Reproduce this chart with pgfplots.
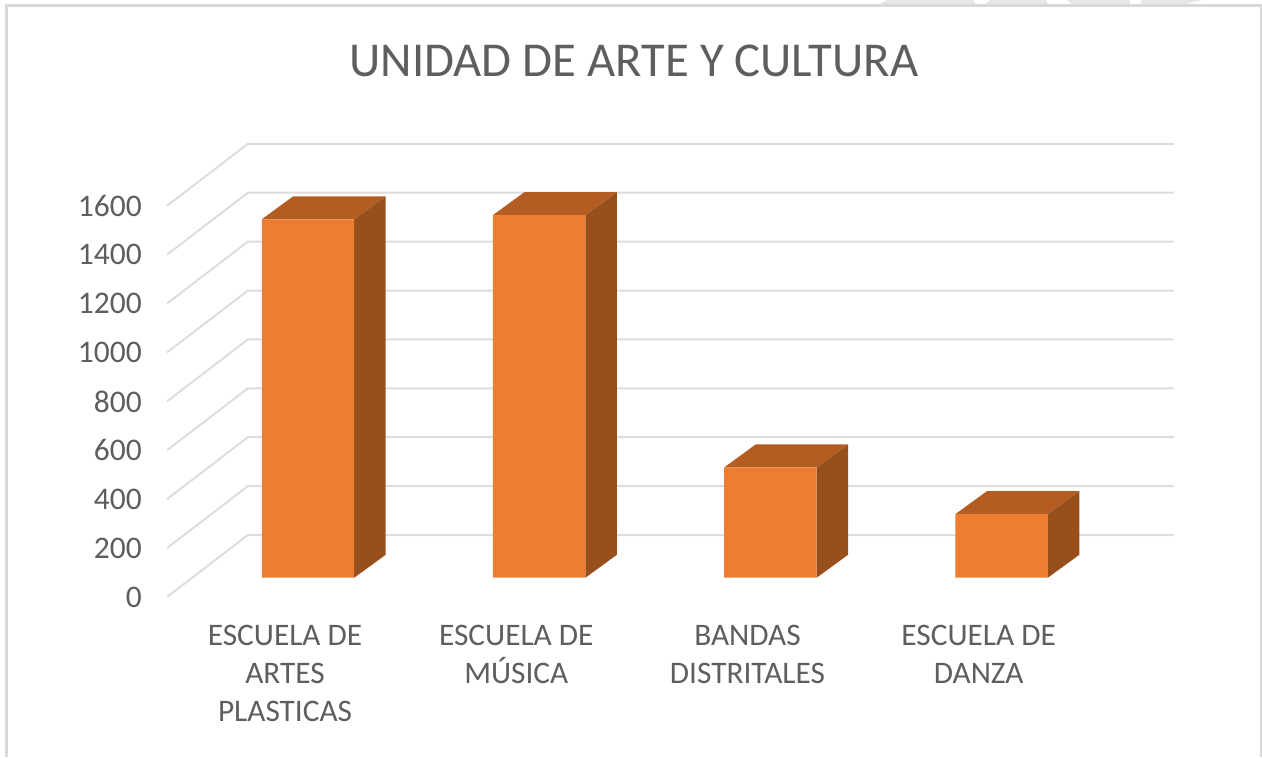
\documentclass[border=0pt]{standalone}
\usepackage{fontspec}
\setmainfont{Carlito}
\usepackage{pgfplots}
\pgfplotsset{compat=1.18}
\definecolor{barfront}{HTML}{ED7D31}
\definecolor{bartop}{HTML}{B35D22}
\definecolor{barside}{HTML}{974F1C}
\definecolor{gridc}{HTML}{DDDDDD}
\definecolor{framec}{HTML}{D9D9D9}
\definecolor{textc}{HTML}{5E5E5E}
\begin{document}
\begin{tikzpicture}
\path[use as bounding box] (0,0) rectangle (946.5pt,567.75pt);
% chart frame, in image pixels
\begin{scope}[x=0.75pt,y=-0.75pt,yshift=567.75pt]
  \fill[framec!65] (887,0) -- (973,0) -- (975,4) -- (880,4) -- cycle;
  \fill[framec!65] (990,0) -- (1046,0) -- (1048,4) -- (985,4) -- cycle;
  \fill[framec!65] (1067,0) -- (1130,0) -- (1130,4) -- (1072,4) -- cycle;
  \fill[framec!65] (1141,0) -- (1202,0) -- (1186,4) -- (1141,4) -- cycle;
  \draw[framec,line width=2.4pt] (6.6,757) -- (6.6,5.6) -- (1262,5.6);
  \draw[framec,line width=1.1pt] (1261,5.6) -- (1261,757);
\end{scope}
\begin{axis}[
    at={(0,0)}, anchor=south west,
    scale only axis, width=946.5pt, height=567.75pt,
    xmin=-1.3322, xmax=4.1263, ymin=-733.3, ymax=2362.8,
    axis line style={draw=none}, tick style={draw=none},
    major tick length=0pt,
    ytick={0,200,400,600,800,1000,1200,1400,1600},
    xtick={0,1,2,3},
    xticklabels={{ESCUELA DE\\ARTES\\PLASTICAS},{ESCUELA DE\\MÚSICA},{BANDAS\\DISTRITALES},{ESCUELA DE\\DANZA}},
    scaled y ticks=false,
    /pgf/number format/1000 sep={},
    /pgf/number format/assume math mode=true,
    yticklabel style={anchor=east, inner sep=0pt, xshift=106.5pt, yshift=-14.6pt,
      text=textc, font=\fontsize{23.6}{28}\selectfont},
    xticklabel style={anchor=north, align=center, inner sep=0pt, xshift=-17.2pt, yshift=99.3pt,
      text=textc, font=\fontsize{23.5}{28.7}\selectfont},
    title={UNIDAD DE ARTE Y CULTURA},
    title style={at={(0.5024,0.9088)}, anchor=center, inner sep=0pt,
      text=textc, font=\fontsize{36.5}{44}\selectfont},
]
% gridlines: floor diagonal, then back wall
\addplot[gridc,line width=1.5pt] coordinates {(-0.61,-79)(-0.26,174.6)(3.7457,174.6)};
\addplot[gridc,line width=1.5pt] coordinates {(-0.61,121)(-0.26,374.6)(3.7457,374.6)};
\addplot[gridc,line width=1.5pt] coordinates {(-0.61,321)(-0.26,574.6)(3.7457,574.6)};
\addplot[gridc,line width=1.5pt] coordinates {(-0.61,521)(-0.26,774.6)(3.7457,774.6)};
\addplot[gridc,line width=1.5pt] coordinates {(-0.61,721)(-0.26,974.6)(3.7457,974.6)};
\addplot[gridc,line width=1.5pt] coordinates {(-0.61,921)(-0.26,1174.6)(3.7457,1174.6)};
\addplot[gridc,line width=1.5pt] coordinates {(-0.61,1121)(-0.26,1374.6)(3.7457,1374.6)};
\addplot[gridc,line width=1.5pt] coordinates {(-0.61,1321)(-0.26,1574.6)(3.7457,1574.6)};
\addplot[gridc,line width=1.5pt] coordinates {(-0.61,1521)(-0.26,1774.6)(3.7457,1774.6)};
% side faces
\addplot[barside,fill=barside,draw=none] coordinates {(0.2,0)(0.3362,94)(0.3362,1560)(0.2,1466)} --cycle;
\addplot[barside,fill=barside,draw=none] coordinates {(1.2,0)(1.3362,94)(1.3362,1577)(1.2,1483)} --cycle;
\addplot[barside,fill=barside,draw=none] coordinates {(2.2,0)(2.3362,94)(2.3362,545)(2.2,451)} --cycle;
\addplot[barside,fill=barside,draw=none] coordinates {(3.2,0)(3.3362,94)(3.3362,354)(3.2,260)} --cycle;
% top faces
\addplot[bartop,fill=bartop,draw=none] coordinates {(-0.2,1466)(0.2,1466)(0.3362,1560)(-0.0638,1560)} --cycle;
\addplot[bartop,fill=bartop,draw=none] coordinates {(0.8,1483)(1.2,1483)(1.3362,1577)(0.9362,1577)} --cycle;
\addplot[bartop,fill=bartop,draw=none] coordinates {(1.8,451)(2.2,451)(2.3362,545)(1.9362,545)} --cycle;
\addplot[bartop,fill=bartop,draw=none] coordinates {(2.8,260)(3.2,260)(3.3362,354)(2.9362,354)} --cycle;
% front faces
\addplot[ybar,bar width=0.4,bar shift=0pt,fill=barfront,draw=none]
  coordinates {(0,1466)(1,1483)(2,451)(3,260)};
\end{axis}
\end{tikzpicture}
\end{document}
